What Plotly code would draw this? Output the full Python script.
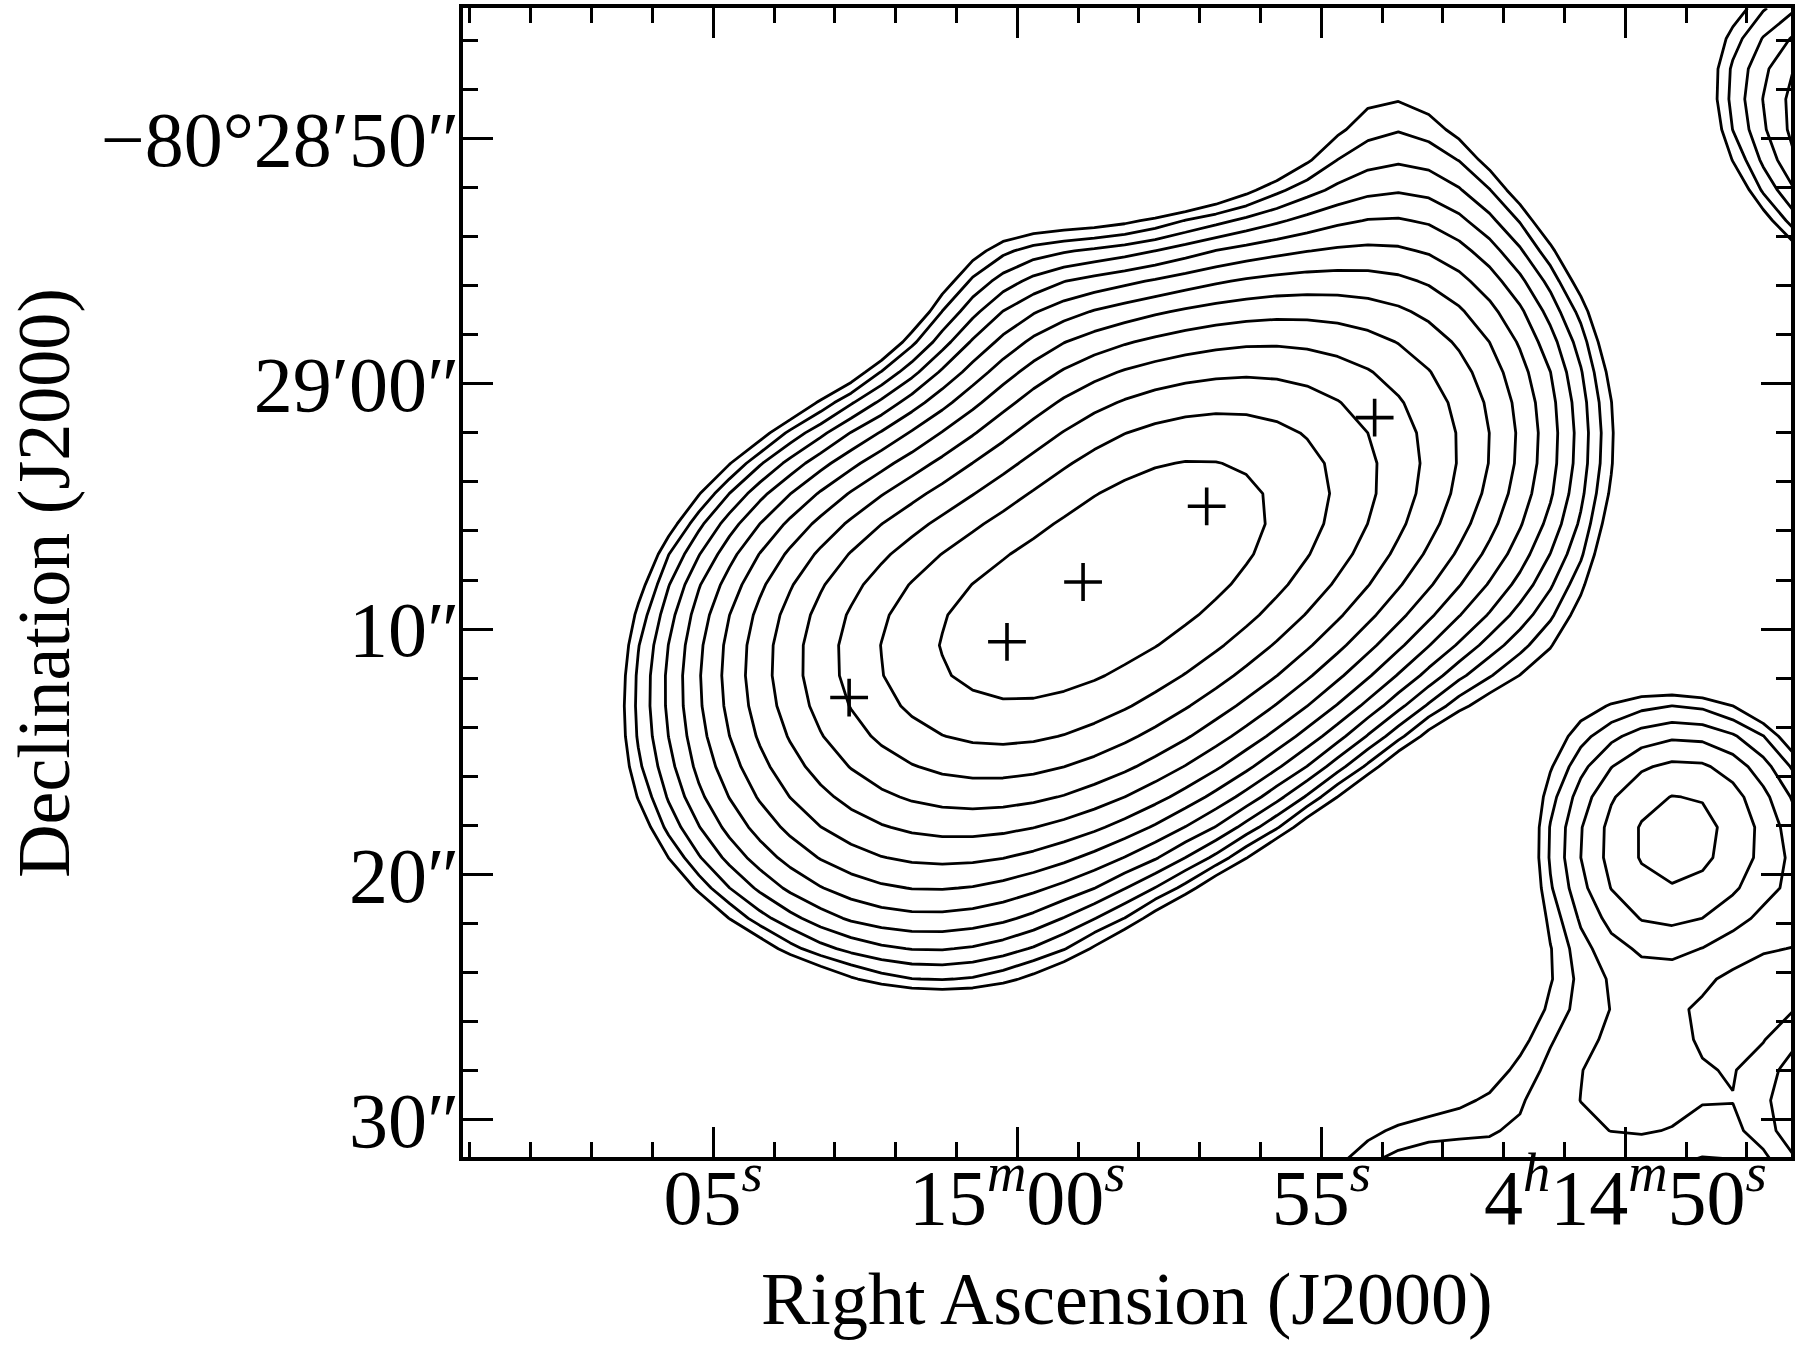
import numpy as np
import plotly.graph_objects as go

# ---------------- data ----------------
# Sky model of the radio map: elliptical Gaussian components
# RA in seconds after 4h14m00s, Dec in arcsec relative to -80d29'00" (north positive)
comp_ra    = [56.849, 60.728, 53.022, 58.925, 62.562, 45.345, 49.084, 49.713, 53.547, 46.319, 45.910]
comp_dec   = [-5.410, -11.175, 4.082, -0.709, -19.789, 9.648, -18.442, -28.859, -34.003, -29.349, -19.849]
comp_amp   = [18.81, 15.29, 1.065, 1.41, 1.634, 4.057, 3.117, 1.523, 1.438, 2.55, 1.253]
comp_sig_a = [6.863, 5.907, 12.000, 3.017, 6.000, 3.586, 3.412, 4.461, 4.054, 3.057, 3.914]   # arcsec
comp_sig_b = [4.861, 4.757, 3.351, 6.000, 3.368, 5.197, 3.766, 3.814, 3.933, 2.341, 1.988]    # arcsec
comp_pa    = [29.0, 1.4, 105.8, 31.2, 158.5, 52.9, 140.0, 161.2, 155.8, 82.3, 50.7]          # deg

# contour levels (relative to the lowest level)
levels = [1.0, 1.179, 1.461, 1.819, 2.245, 2.898, 3.72, 4.832, 6.385, 8.382, 11.13, 14.49, 18.7]

# marked positions (+)
cross_ra  = [62.765, 60.169, 58.918, 56.885, 54.123]
cross_dec = [-12.789, -10.516, -8.080, -4.994, -1.380]

x_tickvals = [65, 60, 55, 50]
x_ticktext = ['05<sup><i>s</i></sup>', '15<sup><i>m</i></sup>00<sup><i>s</i></sup>', '55<sup><i>s</i></sup>',
              '4<sup><i>h</i></sup>14<sup><i>m</i></sup>50<sup><i>s</i></sup>']
y_tickvals = [10, 0, -10, -20, -30]
y_ticktext = ['\u221280\u00b028\u203250\u2033', '29\u203200\u2033', '10\u2033', '20\u2033', '30\u2033']

# ---------------- image grid (map pixels) ----------------
K = 2.4726  # arcsec of sky per second of RA at this declination
ra_g = 57.233 + 0.5 * np.arange(-22, 26)
dec_g = -5.713 + 1.2363 * np.arange(-22, 18)
RG, DG = np.meshgrid(ra_g, dec_g)
XS = -(RG - 60.0) * K
Z = np.zeros_like(XS)
for ra0, d0, A, sa, sb, pa in zip(comp_ra, comp_dec, comp_amp, comp_sig_a, comp_sig_b, comp_pa):
    dx = XS + (ra0 - 60.0) * K
    dy = DG - d0
    t = np.radians(pa)
    u = dx * np.cos(t) + dy * np.sin(t)
    v = -dx * np.sin(t) + dy * np.cos(t)
    Z += A * np.exp(-0.5 * ((u / sa) ** 2 + (v / sb) ** 2))

# map the (non-uniform) contour levels onto level numbers 1..N
lz = np.log(Z)
ll = np.log(levels)
idx = np.arange(1, len(levels) + 1, dtype=float)
ZT = np.interp(lz, ll, idx)
lo = lz < ll[0]
ZT[lo] = 1 + (lz[lo] - ll[0]) / (ll[1] - ll[0])
hi = lz > ll[-1]
ZT[hi] = idx[-1] + (lz[hi] - ll[-1]) / (ll[-1] - ll[-2])

fig = go.Figure()
fig.add_trace(go.Contour(x=ra_g, y=dec_g, z=ZT, autocontour=False,
    contours=dict(start=1, end=len(levels), size=1, coloring='none'),
    line=dict(color='black', width=2.8, smoothing=0), showscale=False, hoverinfo='skip'))
fig.add_trace(go.Scatter(x=cross_ra, y=cross_dec, mode='markers', hoverinfo='skip',
    marker=dict(symbol='cross-thin', size=27, color='black', line=dict(width=3.6, color='black'))))

fig.update_layout(width=1799, height=1348, margin=dict(l=463, r=6, t=4, b=191),
    paper_bgcolor='white', plot_bgcolor='white', showlegend=False)
axis_common = dict(ticks='inside', ticklen=30, tickwidth=3, tickcolor='black', showline=True,
    linewidth=4, linecolor='black', mirror='allticks', showgrid=False, zeroline=False)
fig.update_xaxes(range=[69.115, 47.276], tickvals=x_tickvals, ticktext=x_ticktext,
    ticklabelstandoff=-31,
    minor=dict(dtick=1, ticklen=15, tickwidth=3, ticks='inside', tickcolor='black', showgrid=False),
    tickfont=dict(family='Liberation Serif', size=78, color='black'), **axis_common)
fig.update_yaxes(range=[-31.51, 15.31], tickvals=y_tickvals, ticktext=y_ticktext,
    ticklabelstandoff=-16,
    minor=dict(dtick=2, ticklen=15, tickwidth=3, ticks='inside', tickcolor='black', showgrid=False),
    tickfont=dict(family='Liberation Serif', size=78, color='black'), **axis_common)
fig.add_annotation(x=0.5, y=-0.086, xref='paper', yref='paper', xanchor='center', yanchor='top',
    text='Right Ascension (J2000)', showarrow=False,
    font=dict(family='Liberation Serif', size=74, color='black'))
fig.add_annotation(x=-0.316, y=0.5, xref='paper', yref='paper', xanchor='center', yanchor='middle',
    textangle=-90, text='Declination (J2000)', showarrow=False,
    font=dict(family='Liberation Serif', size=74, color='black'))
fig.write_html("out.html", config={'displayModeBar': False},
               post_script="document.body.style.margin='0px';")
